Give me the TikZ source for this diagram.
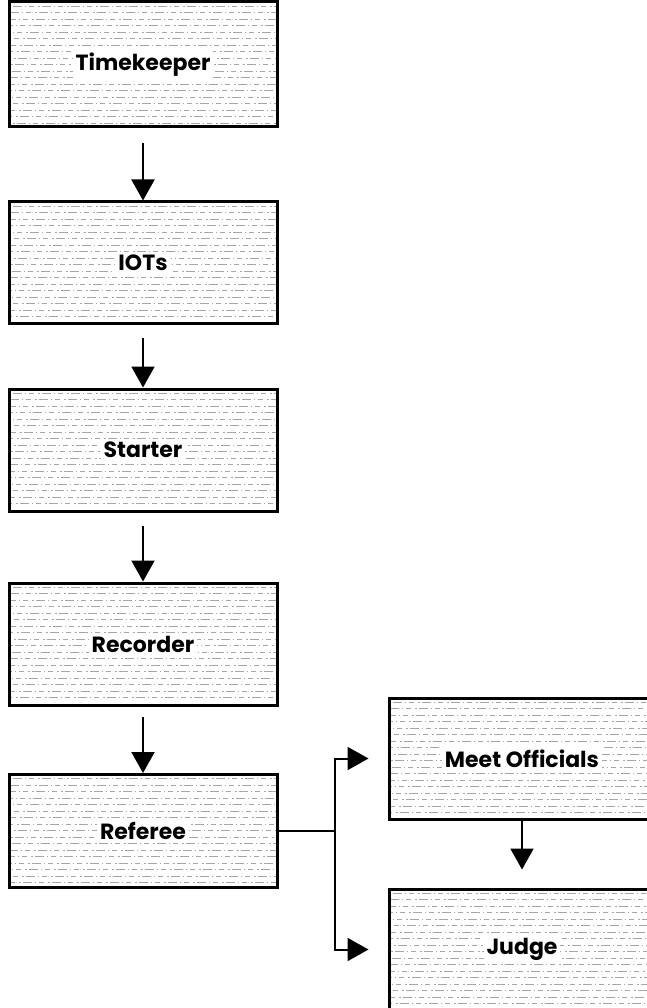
\documentclass[tikz,border=0pt]{standalone}
\usepackage{fontspec}
\newfontfamily\boxfont{Poppins}
\usetikzlibrary{arrows.meta}
\tikzset{
  texture/.style={draw=gray!70, line width=0.6pt, dash pattern=on 2pt off 2pt on 9pt off 3pt on 1pt off 3pt on 5pt off 4pt},
  orgbox/.style={draw=black, line width=3pt, fill=white, minimum width=268pt, inner sep=0pt,
    font=\boxfont\bfseries\fontsize{22}{26}\selectfont,
    path picture={\foreach \k in {0,...,18}
      \draw[texture] ([yshift=-4pt-\k*6.5pt, xshift=-\k*3pt]path picture bounding box.north west) -- ++(330pt,0);}},
  arr/.style={line width=2pt, -{Triangle[length=21pt,width=23pt]}},
  link/.style={line width=2pt},
}
\begin{document}
\begin{tikzpicture}[x=1pt,y=-1pt]
\clip (0,0) rectangle (647,1008);
\fill[white] (0,0) rectangle (647,1008);
\node[orgbox, minimum height=125pt] (tk) at (143,64.5) {\colorbox{white}{Timekeeper}};
\node[orgbox, minimum height=121pt] (iot) at (143,262.5) {\colorbox{white}{IOTs}};
\node[orgbox, minimum height=122pt] (st) at (143,450) {\colorbox{white}{Starter}};
\node[orgbox, minimum height=122pt] (rc) at (143,644) {\colorbox{white}{Recorder}};
\node[orgbox, minimum height=113pt] (rf) at (143,831) {\colorbox{white}{Referee}};
\node[orgbox, minimum width=266pt, minimum height=121pt] (mo) at (522,758.5) {\colorbox{white}{Meet Officials}};
\node[orgbox, minimum width=266pt, minimum height=121pt] (jd) at (522,949.5) {\colorbox{white}{Judge}};
\draw[arr] ([yshift=-15pt]tk.south) -- (iot.north);
\draw[arr] ([yshift=-13pt]iot.south) -- (st.north);
\draw[arr] ([yshift=-13pt]st.south) -- (rc.north);
\draw[arr] ([yshift=-10pt]rc.south) -- (rf.north);
\draw[link] (rf.east) -- ++(56,0) coordinate (jn);
\draw[arr] (jn) |- ([xshift=-19pt]mo.west);
\draw[arr] (jn) |- ([xshift=-19pt]jd.west);
\draw[arr] (mo.south) -- ([yshift=18pt]jd.north);
\end{tikzpicture}
\end{document}
